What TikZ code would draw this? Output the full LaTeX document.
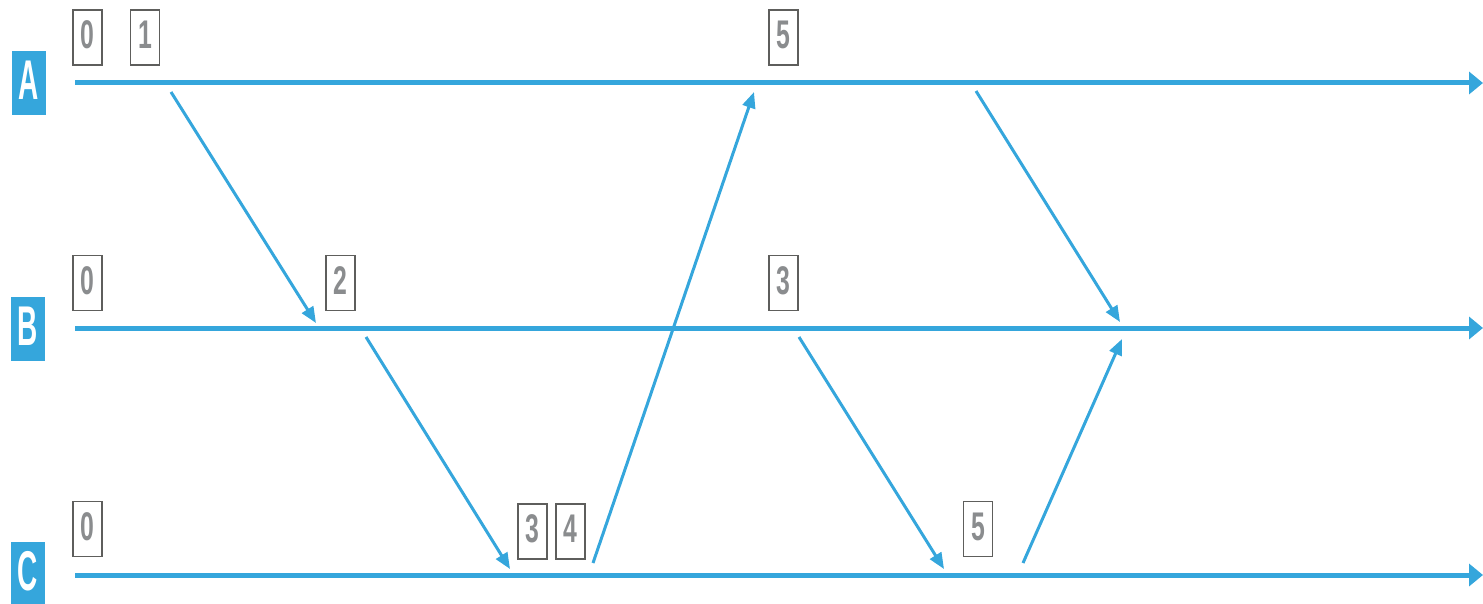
\documentclass[tikz,border=0pt]{standalone}
\usepackage{fontspec}
\setmainfont{Liberation Sans}
\usetikzlibrary{arrows.meta}
\definecolor{lineblue}{HTML}{35A6DC}
\definecolor{boxgray}{HTML}{5E5E5C}
\definecolor{numgray}{HTML}{8A8C8E}
\newcommand{\dig}[1]{\raisebox{5pt}{\scalebox{0.62}[1]{#1}}}
\newcommand{\proc}[1]{\raisebox{5pt}{\scalebox{0.5}[1]{#1}}}
\begin{document}
\begin{tikzpicture}[x=1pt,y=-1pt,
  timeline/.style={draw=lineblue,line width=5pt,-{Triangle[length=14pt,width=22pt]}},
  msg/.style={draw=lineblue,line width=3pt,-{Triangle[length=16pt,width=13pt]}},
  procbox/.style={fill=lineblue,minimum width=34pt,minimum height=64pt,inner sep=0pt,text=white,
    font=\fontsize{56}{56}\selectfont\bfseries},
  numbox/.style={draw=boxgray,line width=1.5pt,minimum width=29pt,minimum height=55pt,inner sep=0pt,text=numgray,
    font=\fontsize{40}{40}\selectfont\bfseries}]
\useasboundingbox (0,0) rectangle (1483,604);
% process labels
\node[procbox] (pA) at (28.5,83) {\proc{A}};
\node[procbox] (pB) at (28,328.5) {\proc{B}};
\node[procbox] (pC) at (28,573.5) {\proc{C}};
% timelines
\coordinate (As) at (75,83); \coordinate (Ae) at (1483,83);
\coordinate (Bs) at (75,328); \coordinate (Be) at (1483,328);
\coordinate (Cs) at (75,575); \coordinate (Ce) at (1483,575);
\draw[timeline] (As) -- (Ae);
\draw[timeline] (Bs) -- (Be);
\draw[timeline] (Cs) -- (Ce);
% number boxes
\node[numbox] (a0) at (87.5,37.5) {\dig{0}};
\node[numbox] (a1) at (145,37.5) {\dig{1}};
\node[numbox] (a5) at (783.5,37.5) {\dig{5}};
\node[numbox] (b0) at (87.5,283) {\dig{0}};
\node[numbox] (b2) at (340.5,283) {\dig{2}};
\node[numbox] (b3) at (783.5,283) {\dig{3}};
\node[numbox] (c0) at (87.5,529) {\dig{0}};
\node[numbox] (c3) at (532.5,531.5) {\dig{3}};
\node[numbox] (c4) at (570.5,531.5) {\dig{4}};
\node[numbox] (c5) at (978,529) {\dig{5}};
% message endpoints
\coordinate (m1s) at (171,92);  \coordinate (m1e) at (316,323);
\coordinate (m2s) at (366,337); \coordinate (m2e) at (510,569);
\coordinate (m3s) at (593,563); \coordinate (m3e) at (754,92);
\coordinate (m4s) at (976,91);  \coordinate (m4e) at (1120,322);
\coordinate (m5s) at (799,337); \coordinate (m5e) at (944,569);
\coordinate (m6s) at (1023,563); \coordinate (m6e) at (1122,339);
\draw[msg] (m1s) -- (m1e);
\draw[msg] (m2s) -- (m2e);
\draw[msg] (m3s) -- (m3e);
\draw[msg] (m4s) -- (m4e);
\draw[msg] (m5s) -- (m5e);
\draw[msg] (m6s) -- (m6e);
\end{tikzpicture}
\end{document}
